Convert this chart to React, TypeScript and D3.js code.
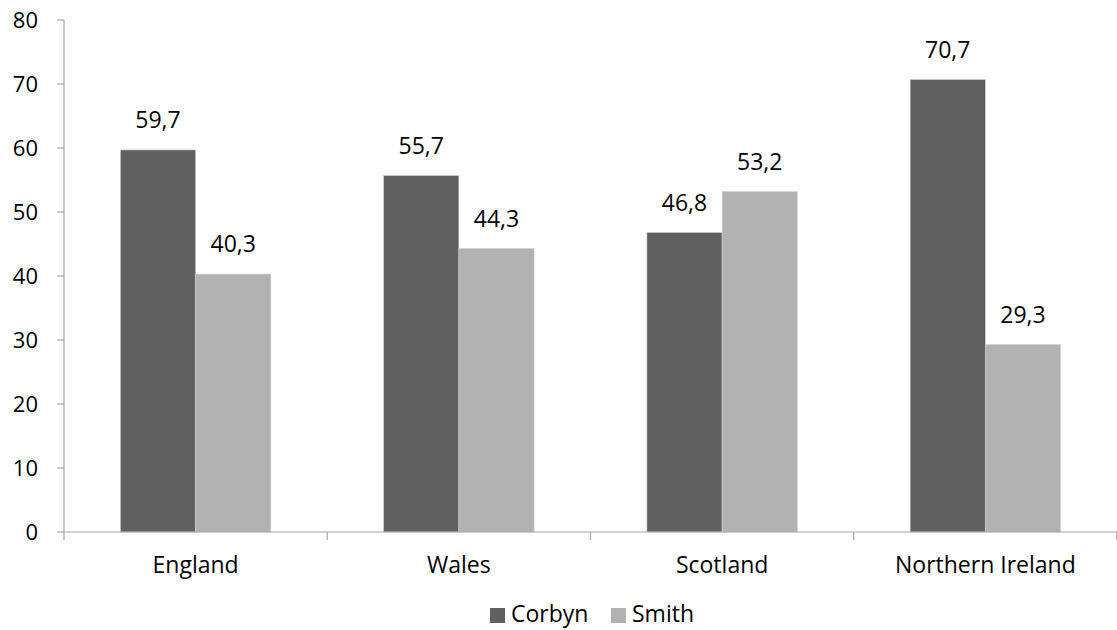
import React from "react";
import * as d3 from "d3";

const categories = ["England", "Wales", "Scotland", "Northern Ireland"];
const seriesNames = ["Corbyn", "Smith"];
const corbyn = [59.7, 55.7, 46.8, 70.7];
const smith = [40.3, 44.3, 53.2, 29.3];
const yTicks = [0, 10, 20, 30, 40, 50, 60, 70, 80];
const colors = ["#606060", "#b2b2b2"];

export default function App() {
  const W = 1117, H = 630;
  const left = 64, right = 1117, top = 20, bottom = 532;
  const font = "'Open Sans', sans-serif";
  const fs = 23;
  const x = d3.scaleBand<string>().domain(categories).range([left, right]).paddingInner(0).paddingOuter(0);
  const y = d3.scaleLinear().domain([0, 80]).range([bottom, top]);
  const bw = x.bandwidth() / 3.5;
  const inner = d3.scaleBand<string>().domain(seriesNames).range([0.75 * bw, 2.75 * bw]);
  const values = [corbyn, smith];
  const fmt = (v: number) => d3.format(".1f")(v).replace(".", ",");
  const axisColor = "#a6a6a6";

  return (
    <svg width={W} height={H} style={{ position: "absolute", left: 0, top: 0, background: "#fff" }}>
      {categories.map((c, i) =>
        seriesNames.map((s, j) => {
          const v = values[j][i];
          const bx = (x(c) as number) + (inner(s) as number);
          return (
            <g key={c + s}>
              <rect x={bx} y={y(v)} width={inner.bandwidth()} height={bottom - y(v)} fill={colors[j]} stroke="#d0d0d0" strokeWidth={0.6} />
              <text x={bx + inner.bandwidth() / 2} y={y(v) - 28} textAnchor="middle" dominantBaseline="middle" fontFamily={font} fontSize={fs} fill="#000">
                {fmt(v)}
              </text>
            </g>
          );
        })
      )}
      <line x1={left} x2={left} y1={top} y2={bottom} stroke={axisColor} strokeWidth={1.2} />
      {yTicks.map((t) => (
        <g key={t}>
          <line x1={left - 7} x2={left} y1={y(t)} y2={y(t)} stroke={axisColor} strokeWidth={1.2} />
          <text x={38} y={y(t) + 2} textAnchor="end" dominantBaseline="middle" fontFamily={font} fontSize={22} fill="#000">
            {t}
          </text>
        </g>
      ))}
      <line x1={left} x2={right} y1={bottom} y2={bottom} stroke={axisColor} strokeWidth={1.2} />
      {[...categories.map((c) => x(c) as number), right].map((tx, i) => (
        <line key={i} x1={tx} x2={tx} y1={bottom} y2={bottom + 8} stroke={axisColor} strokeWidth={1.2} />
      ))}
      {categories.map((c) => (
        <text key={c} x={(x(c) as number) + x.bandwidth() / 2} y={567} textAnchor="middle" dominantBaseline="middle" fontFamily={font} fontSize={fs} fill="#000">
          {c}
        </text>
      ))}
      {seriesNames.map((s, j) => {
        const lx = j === 0 ? 490 : 611;
        return (
          <g key={s}>
            <rect x={lx} y={608} width={15} height={15} fill={colors[j]} />
            <text x={lx + 21} y={616} dominantBaseline="middle" fontFamily={font} fontSize={fs} fill="#000">
              {s}
            </text>
          </g>
        );
      })}
    </svg>
  );
}
